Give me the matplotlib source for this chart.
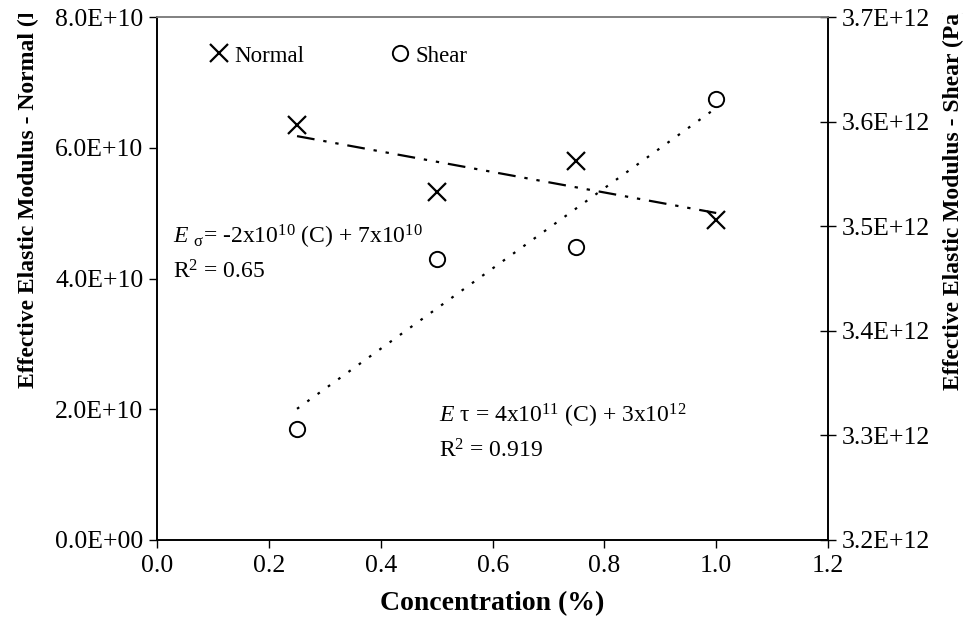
import matplotlib
matplotlib.use('Agg')
import matplotlib.pyplot as plt
import numpy as np
from matplotlib.transforms import Bbox, TransformedBbox

# Data
conc = [0.25, 0.50, 0.75, 1.00]
normal = [6.35e10, 5.33e10, 5.79e10, 4.89e10]
shear = [3.306e12, 3.469e12, 3.480e12, 3.622e12]

xticks = [0.0, 0.2, 0.4, 0.6, 0.8, 1.0, 1.2]
normal_ticks = [0, 2e10, 4e10, 6e10, 8e10]
shear_ticks = [3.2e12, 3.3e12, 3.4e12, 3.5e12, 3.6e12, 3.7e12]

eq_normal = r'$\mathit{E}$ $_{\mathrm{σ}}$= -2x10$^{10}$ (C) + 7x10$^{10}$'
r2_normal = r'R$^{2}$ = 0.65'
eq_shear = r'$\mathit{E}$ τ = 4x10$^{11}$ (C) + 3x10$^{12}$'
r2_shear = r'R$^{2}$ = 0.919'

plt.rcParams['font.family'] = ['Liberation Serif', 'DejaVu Serif']
plt.rcParams['mathtext.fontset'] = 'custom'
plt.rcParams['mathtext.rm'] = 'Liberation Serif'
plt.rcParams['mathtext.it'] = 'Liberation Serif:italic'
plt.rcParams['mathtext.bf'] = 'Liberation Serif:bold'
fs_tick = 18.5
fs_txt = 17

W, H = 973, 639
fig = plt.figure(figsize=(W/100, H/100), dpi=100)
fig.patch.set_facecolor('white')
ax = fig.add_axes([157.3/W, 1 - 540/H, (828 - 157.3)/W, (540 - 17)/H])
ax2 = ax.twinx()

# markers
h1, = ax.plot(conc, normal, 'x', ms=13, mew=1.6, color='black', label='Normal')
h2, = ax2.plot(conc, shear, 'o', ms=11, mew=1.4, mfc='none', color='black', label='Shear')

# linear trendlines
xfit = np.array([conc[0], conc[-1]])
pn = np.polyfit(conc, normal, 1)
ps = np.polyfit(conc, shear, 1)
ax.plot(xfit, np.polyval(pn, xfit), color='black', lw=1.6, ls=(0, (8, 4, 1.5, 4, 1.5, 4)))
ax2.plot(xfit, np.polyval(ps, xfit), color='black', lw=1.6, ls=(0, (1.2, 4.5)))

ax.set_xlim(0, 1.2)
ax.set_ylim(0, 8e10)
ax2.set_ylim(3.2e12, 3.7e12)
ax.set_xticks(xticks)
ax.set_xticklabels(['%.1f' % v for v in xticks], fontsize=fs_tick)
ax.set_yticks(normal_ticks)
ax.set_yticklabels(['%.1E' % v for v in normal_ticks], fontsize=fs_tick)
ax2.set_yticks(shear_ticks)
ax2.set_yticklabels(['%.1E' % v for v in shear_ticks], fontsize=fs_tick)

ax.tick_params(axis='x', direction='out', length=6, width=1, pad=5)
ax.tick_params(axis='y', direction='out', length=6, width=1, pad=4)
ax2.tick_params(axis='y', direction='inout', length=12, width=1, pad=4)
for a in (ax, ax2):
    for s in a.spines.values():
        s.set_linewidth(1.2)
ax.spines['top'].set_color('#808080')
ax2.spines['top'].set_color('#808080')

ax.legend([h1, h2], ['Normal', 'Shear'], ncol=2, frameon=False, fontsize=16.5,
          loc='upper left', bbox_to_anchor=(0.046, 0.985), handlelength=0.9,
          handletextpad=0.2, columnspacing=3.75)

ax.text(0.024, 0.567, eq_normal, transform=ax.transAxes, fontsize=fs_txt, va='baseline')
ax.text(0.024, 0.50, r2_normal, transform=ax.transAxes, fontsize=fs_txt, va='baseline')
ax.text(0.42, 0.224, eq_shear, transform=ax.transAxes, fontsize=fs_txt, va='baseline')
ax.text(0.42, 0.157, r2_shear, transform=ax.transAxes, fontsize=fs_txt, va='baseline')

ax.set_xlabel('Concentration (%)', fontsize=20, fontweight='bold', labelpad=10)

# y titles, cut off at the top as in the reference
t1 = fig.text(28/W, 1 - 388/H, 'Effective Elastic Modulus - Normal (Pa)', rotation=90,
              ha='center', va='bottom', fontsize=17, fontweight='bold')
t1.set_clip_box(TransformedBbox(Bbox.from_extents(0, 0, 1, 1 - 14/H), fig.transFigure))
t1.set_clip_on(True)
t2 = fig.text(953/W, 1 - 390/H, 'Effective Elastic Modulus - Shear (Pa)', rotation=90,
              ha='center', va='bottom', fontsize=17, fontweight='bold')
t2.set_clip_box(TransformedBbox(Bbox.from_extents(0, 0, 1, 1 - 13/H), fig.transFigure))
t2.set_clip_on(True)

plt.savefig('out.png', dpi=100)
